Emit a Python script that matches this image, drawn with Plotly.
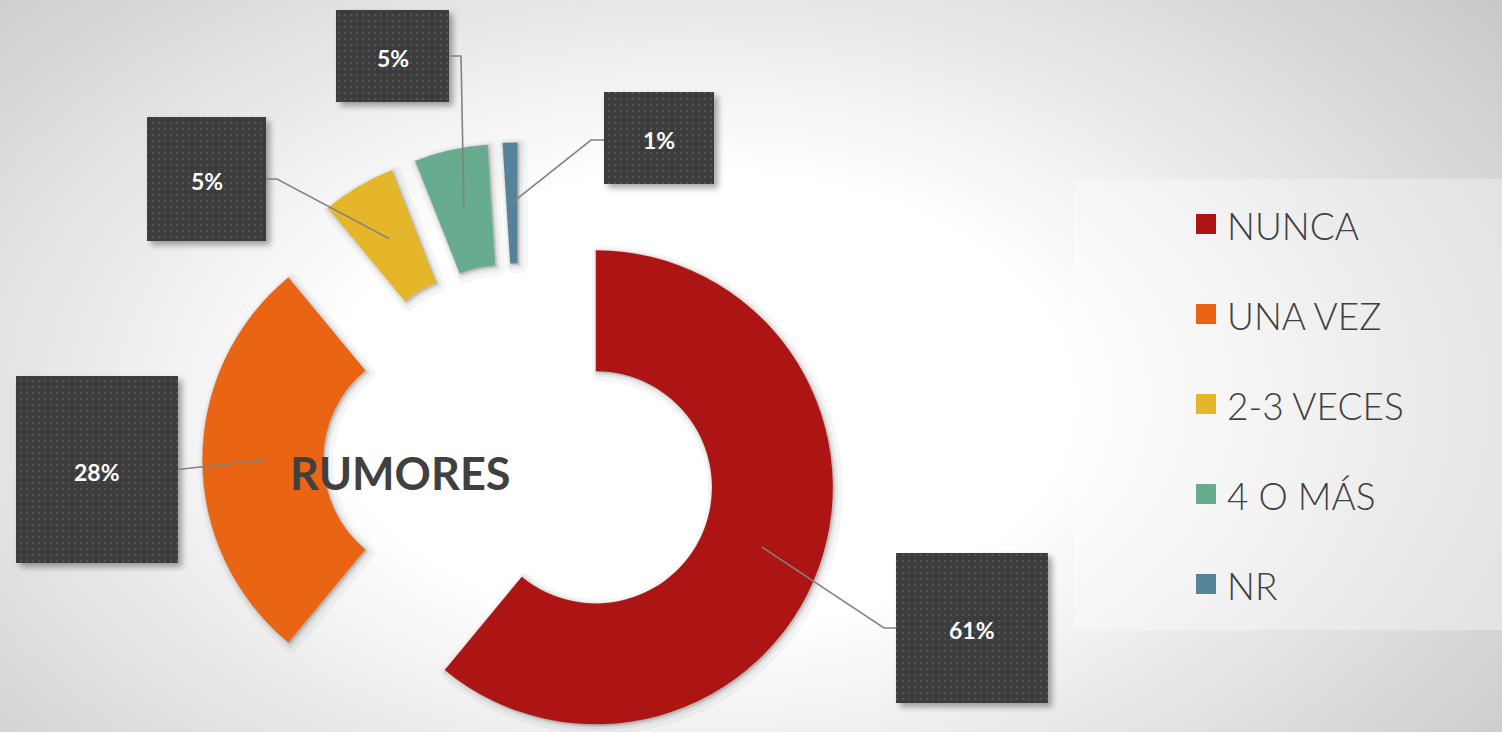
import math
import base64
import plotly.graph_objects as go

# ---------------- data ----------------
categories = ["NUNCA", "UNA VEZ", "2-3 VECES", "4 O MÁS", "NR"]
values = [61, 28, 5, 5, 1]
pct_labels = ["61%", "28%", "5%", "5%", "1%"]
colors = ["#AD1515", "#E96413", "#E5B62A", "#68AC8F", "#54839A"]
center_title = "RUMORES"

# ---------------- layout constants (pixels) ----------------
W, H = 1502, 732
CX, CY = 520, 460          # donut centre
R = 237                    # outer radius
HOLE = 0.49
PULL = 0.34                # explosion as fraction of radius

# label boxes: centre x, centre y, width, height
box_specs = [
    (972, 628, 152, 150),
    (97, 469.5, 162, 187),
    (206.5, 179, 119, 124),
    (392.5, 56, 113, 92),
    (659, 138, 110, 92),
]
# leader attach side (+1 right edge, -1 left edge), elbow length, attach y offset
leader_specs = [(-1, 12, 0), (1, 0, 0), (1, 11, 0), (1, 12, 0), (-1, 13, 2)]

legend_x, legend_y0, legend_dy = 1196, 224, 90


def px_x(x):
    return x / W


def px_y(y):
    return 1 - y / H


total = sum(values)
fig = go.Figure()

# dummy trace so the pixel-space cartesian axes exist
fig.add_trace(go.Scatter(x=[None], y=[None], showlegend=False, hoverinfo="skip"))

geo = []
cum = 0
for i, v in enumerate(values):
    start = 360 * cum / total
    end = 360 * (cum + v) / total
    mid = math.radians((start + end) / 2)
    p = PULL * R
    sx = CX + p * math.sin(mid)
    sy = CY - p * math.cos(mid)
    rm = R * (1 + HOLE) / 2
    ax = sx + rm * math.sin(mid)
    ay = sy - rm * math.cos(mid)
    geo.append((start, sx, sy, ax, ay))
    cum += v

# soft shadows (pie traces behind slices)
for i, v in enumerate(values):
    start, sx, sy, _, _ = geo[i]
    for off, alpha, lw in [(3, 0.035, 14), (2, 0.05, 7), (1, 0.06, 3)]:
        fig.add_trace(go.Pie(
            values=[v, total - v],
            labels=[categories[i], "_rest"],
            sort=False, direction="clockwise", rotation=start, hole=HOLE,
            marker=dict(colors=[f"rgba(0,0,0,{alpha})", "rgba(0,0,0,0)"],
                        line=dict(color=[f"rgba(0,0,0,{alpha})", "rgba(0,0,0,0)"], width=lw)),
            domain=dict(x=[px_x(sx + off - R), px_x(sx + off + R)],
                        y=[px_y(sy + off + R), px_y(sy + off - R)]),
            textinfo="none", hoverinfo="skip", showlegend=False,
        ))

# slices
for i, v in enumerate(values):
    start, sx, sy, _, _ = geo[i]
    fig.add_trace(go.Pie(
        values=[v, total - v],
        labels=[categories[i], "_rest"],
        sort=False, direction="clockwise", rotation=start, hole=HOLE,
        marker=dict(colors=[colors[i], "rgba(0,0,0,0)"], line=dict(width=0)),
        domain=dict(x=[px_x(sx - R), px_x(sx + R)], y=[px_y(sy + R), px_y(sy - R)]),
        textinfo="none", hovertemplate=f"{categories[i]}: {pct_labels[i]}<extra></extra>",
        showlegend=False,
    ))

# ---------------- background (radial gradient + box shadows) ----------------
shadow_rects = "".join(
    f"<rect x='{bx - bw / 2 + 4}' y='{by - bh / 2 + 4}' width='{bw}' height='{bh}' fill='#000' opacity='0.35' filter='url(#b)'/>"
    for (bx, by, bw, bh) in box_specs
)
bg_svg = (
    f"<svg xmlns='http://www.w3.org/2000/svg' width='{W}' height='{H}'>"
    "<defs><radialGradient id='g' gradientUnits='userSpaceOnUse' cx='0' cy='0' r='1' "
    "gradientTransform='translate(700 400) scale(1060 650)'>"
    "<stop offset='0' stop-color='#ffffff'/><stop offset='0.35' stop-color='#ffffff'/>"
    "<stop offset='1' stop-color='#c6c6c6'/></radialGradient>"
    "<filter id='b' x='-20%' y='-20%' width='140%' height='140%'><feGaussianBlur stdDeviation='3'/></filter></defs>"
    f"<rect width='{W}' height='{H}' fill='url(#g)'/>" + shadow_rects + "</svg>"
)
dots_rects = "".join(
    f"<rect x='{bx - bw / 2}' y='{by - bh / 2}' width='{bw}' height='{bh}' fill='url(#p)'/>"
    for (bx, by, bw, bh) in box_specs
)
dots_svg = (
    f"<svg xmlns='http://www.w3.org/2000/svg' width='{W}' height='{H}'>"
    "<defs><pattern id='p' width='6' height='6' patternUnits='userSpaceOnUse'>"
    "<rect x='2' y='2' width='2' height='2' fill='#535353'/></pattern></defs>"
    + dots_rects + "</svg>"
)


def svg_uri(s):
    return "data:image/svg+xml;base64," + base64.b64encode(s.encode()).decode()


images = [
    dict(source=svg_uri(bg_svg), xref="paper", yref="paper", x=0, y=1, sizex=1, sizey=1,
         xanchor="left", yanchor="top", sizing="stretch", layer="below"),
    dict(source=svg_uri(dots_svg), xref="paper", yref="paper", x=0, y=1, sizex=1, sizey=1,
         xanchor="left", yanchor="top", sizing="stretch", layer="above"),
]

shapes = []
annotations = []

# legend panel
shapes.append(dict(type="rect", xref="x", yref="y", x0=1074, x1=W, y0=179, y1=630,
                   fillcolor="rgba(255,255,255,0.32)", line=dict(width=0), layer="below"))

# label boxes + leader lines + labels
for i, (bx, by, bw, bh) in enumerate(box_specs):
    shapes.append(dict(type="rect", xref="x", yref="y", x0=bx - bw / 2, x1=bx + bw / 2,
                       y0=by - bh / 2, y1=by + bh / 2, fillcolor="#3C3C3C",
                       line=dict(width=0), layer="below"))
    side, elbow, yo = leader_specs[i]
    ex = bx + side * bw / 2
    ey = by + yo
    _, _, _, ax, ay = geo[i]
    if elbow:
        path = f"M {ex},{ey} L {ex + side * elbow},{ey} L {ax},{ay}"
    else:
        path = f"M {ex},{ey} L {ax},{ay}"
    shapes.append(dict(type="path", xref="x", yref="y", path=path,
                       line=dict(color="#828282", width=1.6), layer="above"))
    annotations.append(dict(x=bx, y=by + 2, xref="x", yref="y", text=pct_labels[i],
                            showarrow=False, font=dict(family="Lato", size=23, color="#FFFFFF", weight=700)))

# centre title
annotations.append(dict(x=400, y=473, xref="x", yref="y", text=center_title, showarrow=False,
                        font=dict(family="Lato", size=45, color="#404040", weight=700)))

# legend (squares + names)
for i, cat in enumerate(categories):
    yy = legend_y0 + i * legend_dy
    shapes.append(dict(type="rect", xref="x", yref="y", x0=legend_x, x1=legend_x + 20,
                       y0=yy - 10, y1=yy + 10, fillcolor=colors[i], line=dict(width=0), layer="above"))
    annotations.append(dict(x=legend_x + 29, y=yy + 1, xref="x", yref="y", text=cat, showarrow=False,
                            xanchor="left", yanchor="middle",
                            font=dict(family="Lato", size=37, color="#404040", weight=300)))

fig.update_layout(
    width=W, height=H,
    margin=dict(l=0, r=0, t=0, b=0),
    paper_bgcolor="#e6e6e6", plot_bgcolor="rgba(0,0,0,0)",
    xaxis=dict(range=[0, W], visible=False, fixedrange=True),
    yaxis=dict(range=[H, 0], visible=False, fixedrange=True),
    shapes=shapes, annotations=annotations, images=images,
    showlegend=False,
)

fig.write_html(
    "out.html",
    config={"displayModeBar": False},
    post_script="document.body.style.margin='0';document.body.style.overflow='hidden';",
)
